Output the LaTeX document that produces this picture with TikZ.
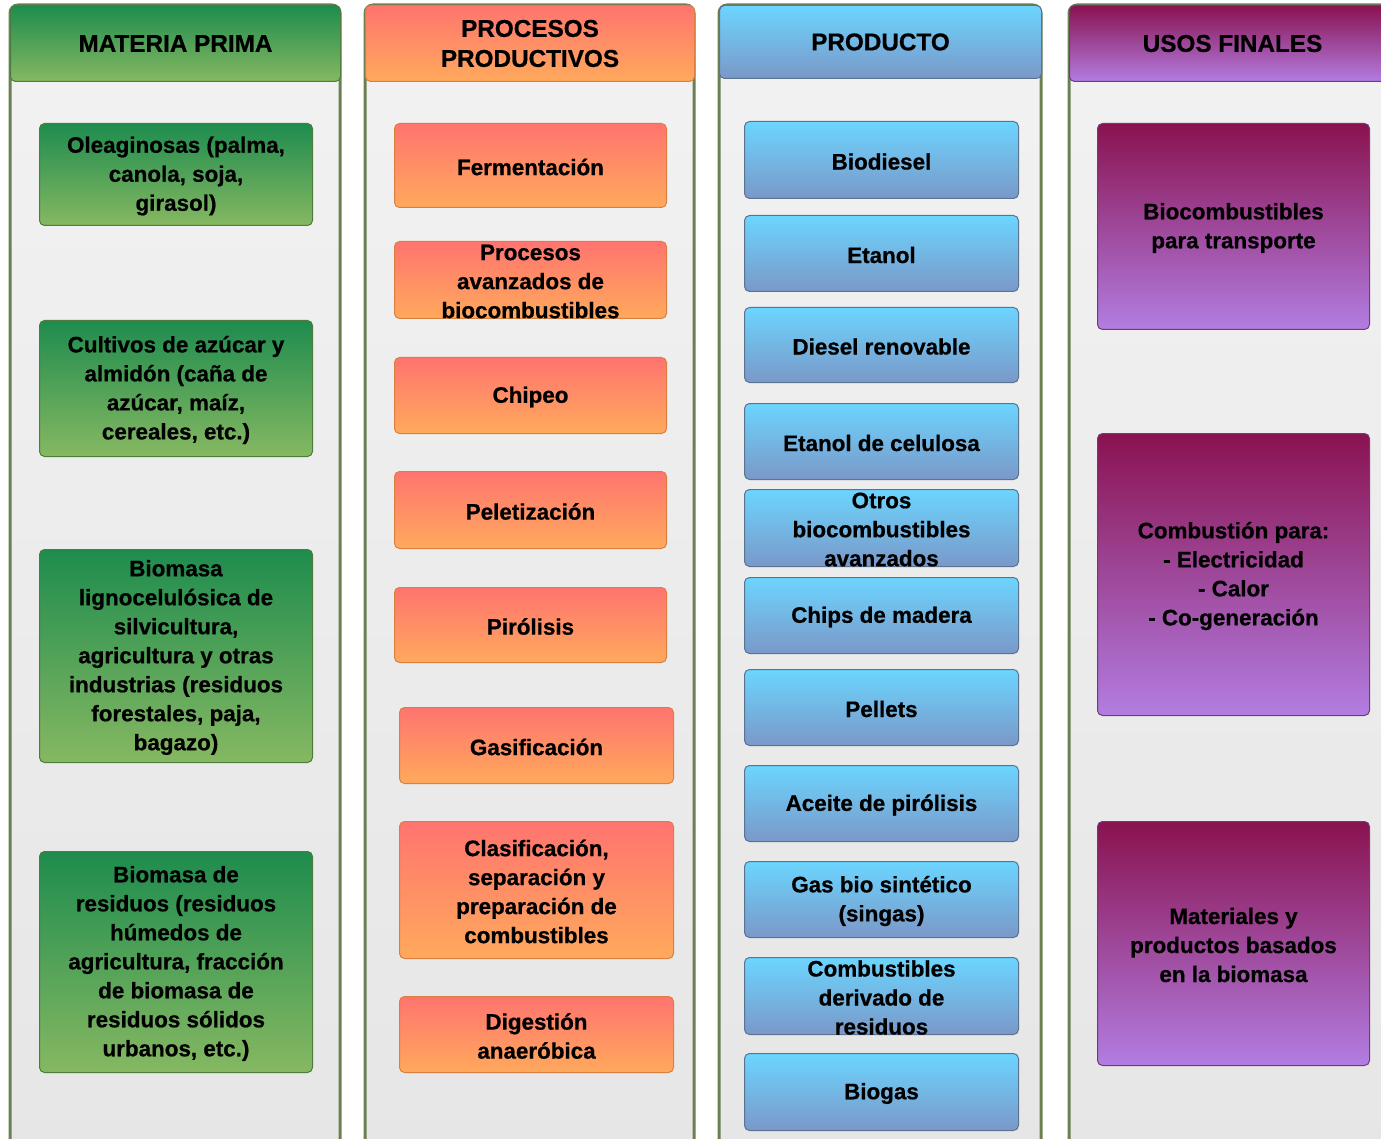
\documentclass[tikz,border=0pt]{standalone}
\usepackage{fontspec}
\setmainfont[FakeBold=0.7]{Liberation Sans}
\definecolor{gTop}{HTML}{1E8C4E}
\definecolor{gBot}{HTML}{86B862}
\definecolor{gLine}{HTML}{4E7C3C}
\definecolor{oTop}{HTML}{FF746F}
\definecolor{oBot}{HTML}{FFA95C}
\definecolor{oLine}{HTML}{D98040}
\definecolor{bTop}{HTML}{6CD5FF}
\definecolor{bBot}{HTML}{7A98C8}
\definecolor{bLine}{HTML}{5A7391}
\definecolor{pTop}{HTML}{8A1250}
\definecolor{pBot}{HTML}{B27DE2}
\definecolor{pLine}{HTML}{6E3C78}
\definecolor{frameLine}{HTML}{6A8052}
\definecolor{frameTop}{HTML}{F2F2F2}
\definecolor{frameBot}{HTML}{E6E6E6}
\tikzset{
  txt/.style={align=center, font=\fontsize{22.4}{29}\bfseries, text=black, inner sep=0pt, yshift=-1.5pt},
  headtxt/.style={align=center, font=\fontsize{24.3}{30}\bfseries, text=black, inner sep=0pt},
  box/.style={rounded corners=5pt, line width=1pt, inner sep=0pt, anchor=north west},
  gbox/.style={box, top color=gTop, bottom color=gBot, draw=gLine},
  obox/.style={box, top color=oTop, bottom color=oBot, draw=oLine},
  bbox/.style={box, top color=bTop, bottom color=bBot, draw=bLine},
  pbox/.style={box, top color=pTop, bottom color=pBot, draw=pLine},
  frame/.style={rounded corners=8pt, line width=3pt, draw=frameLine, top color=frameTop, bottom color=frameBot},
}
\newcommand\bx[7]{\node[#1, minimum width={#5pt-#3pt}, minimum height={#6pt-#4pt}, label={[txt]center:{#7}}] (#2) at (#3,#4) {};}
\newcommand\hd[7]{\node[#1, minimum width={#5pt-#3pt}, minimum height={#6pt-#4pt}, label={[headtxt]center:{#7}}] (#2) at (#3,#4) {};}
\begin{document}
\begin{tikzpicture}[x=1pt,y=-1pt]
\useasboundingbox (0,0) rectangle (1381,1139);
\clip (0,0) rectangle (1381,1139);
% column frames
\draw[frame] (10,5) rectangle (340,1170);
\draw[frame] (365,5) rectangle (694,1170);
\draw[frame] (719,5) rectangle (1041,1170);
\draw[frame] (1069,5) rectangle (1420,1170);
% headers
\hd{gbox}{h1}{10}{5}{340}{81}{MATERIA PRIMA}
\hd{obox}{h2}{365}{5}{694}{81}{PROCESOS\\PRODUCTIVOS}
\hd{bbox}{h3}{719}{5}{1041}{78}{PRODUCTO}
\hd{pbox}{h4}{1069}{5}{1420}{81}{\hspace*{-25pt}USOS FINALES}
% materia prima
\bx{gbox}{m1}{39}{123}{312}{225}{Oleaginosas (palma,\\canola, soja,\\girasol)}
\bx{gbox}{m2}{39}{320}{312}{456}{Cultivos de azúcar y\\almidón (caña de\\azúcar, maíz,\\cereales, etc.)}
\bx{gbox}{m3}{39}{549}{312}{762}{Biomasa\\lignocelulósica de\\silvicultura,\\agricultura y otras\\industrias (residuos\\forestales, paja,\\bagazo)}
\bx{gbox}{m4}{39}{851}{312}{1072}{Biomasa de\\residuos (residuos\\húmedos de\\agricultura, fracción\\de biomasa de\\residuos sólidos\\urbanos, etc.)}
% procesos
\bx{obox}{p1}{394}{123}{666}{207}{Fermentación}
\bx{obox}{p2}{394}{241}{666}{318}{Procesos\\avanzados de\\biocombustibles}
\bx{obox}{p3}{394}{357}{666}{433}{Chipeo}
\bx{obox}{p4}{394}{471}{666}{548}{Peletización}
\bx{obox}{p5}{394}{587}{666}{662}{Pirólisis}
\bx{obox}{p6}{399}{707}{673}{783}{Gasificación}
\bx{obox}{p7}{399}{821}{673}{958}{Clasificación,\\separación y\\preparación de\\combustibles}
\bx{obox}{p8}{399}{996}{673}{1072}{Digestión\\anaeróbica}
% producto
\bx{bbox}{r1}{744}{121}{1018}{198}{Biodiesel}
\bx{bbox}{r2}{744}{215}{1018}{291}{Etanol}
\bx{bbox}{r3}{744}{307}{1018}{382}{Diesel renovable}
\bx{bbox}{r4}{744}{403}{1018}{479}{Etanol de celulosa}
\bx{bbox}{r5}{744}{489}{1018}{566}{Otros\\biocombustibles\\avanzados}
\bx{bbox}{r6}{744}{577}{1018}{653}{Chips de madera}
\bx{bbox}{r7}{744}{669}{1018}{745}{Pellets}
\bx{bbox}{r8}{744}{765}{1018}{841}{Aceite de pirólisis}
\bx{bbox}{r9}{744}{861}{1018}{937}{Gas bio sintético\\(singas)}
\bx{bbox}{r10}{744}{957}{1018}{1034}{Combustibles\\derivado de\\residuos}
\bx{bbox}{r11}{744}{1053}{1018}{1130}{Biogas}
% usos finales
\bx{pbox}{u1}{1097}{123}{1369}{329}{Biocombustibles\\para transporte}
\bx{pbox}{u2}{1097}{433}{1369}{715}{Combustión para:\\- Electricidad\\- Calor\\- Co-generación}
\bx{pbox}{u3}{1097}{821}{1369}{1065}{Materiales y\\productos basados\\en la biomasa}
\end{tikzpicture}
\end{document}
